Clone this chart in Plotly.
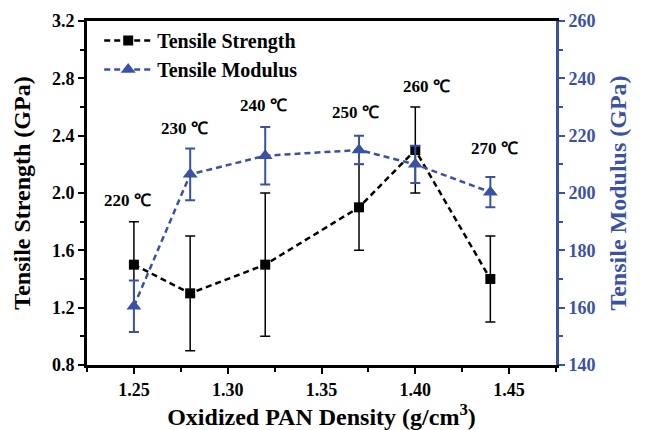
import plotly.graph_objects as go

density = [1.25, 1.28, 1.32, 1.37, 1.40, 1.44]
strength = [1.5, 1.3, 1.5, 1.9, 2.3, 1.4]
strength_err = [0.3, 0.4, 0.5, 0.3, 0.3, 0.3]
modulus = [160.5, 206.5, 213, 215, 210, 200.3]
modulus_err = [9, 9, 10, 5, 6.5, 5.3]
temp_labels = ["220 ℃", "230 ℃", "240 ℃", "250 ℃", "260 ℃", "270 ℃"]
label_x = [1.2468, 1.277, 1.319, 1.368, 1.406, 1.442]
label_y = [1.95, 2.45, 2.61, 2.56, 2.74, 2.31]

BLUE = "#3A52A6"
FONT = "Liberation Serif"

fig = go.Figure()
fig.add_trace(go.Scatter(
    x=density, y=strength, name="Tensile Strength", mode="lines+markers",
    line=dict(color="black", width=2.5, dash="6px,4px"),
    marker=dict(symbol="square", size=10, color="black"),
    error_y=dict(type="data", array=strength_err, color="black", thickness=1.5, width=5),
    yaxis="y"))
fig.add_trace(go.Scatter(
    x=density, y=modulus, name="Tensile Modulus", mode="lines+markers",
    line=dict(color=BLUE, width=2.5, dash="6px,4px"),
    marker=dict(symbol="triangle-up", size=13, color=BLUE),
    error_y=dict(type="data", array=modulus_err, color=BLUE, thickness=2, width=5),
    yaxis="y2"))

for t, x, y in zip(temp_labels, label_x, label_y):
    fig.add_annotation(x=x, y=y, xref="x", yref="y", text=t, showarrow=False,
                       font=dict(family=FONT, size=17, color="black", weight="bold"))

fig.update_layout(
    width=637, height=422,
    margin=dict(l=79, r=89, t=13, b=65),
    plot_bgcolor="white", paper_bgcolor="white",
    font=dict(family=FONT, size=18, color="black", weight="bold"),
    showlegend=True,
    legend=dict(x=0.026, y=1.0, xanchor="left", yanchor="top", itemwidth=48,
                bgcolor="rgba(0,0,0,0)", font=dict(family=FONT, size=20, weight="bold")),
    xaxis=dict(range=[1.225, 1.475], tickvals=[1.25, 1.30, 1.35, 1.40, 1.45],
               ticktext=["1.25", "1.30", "1.35", "1.40", "1.45"], automargin=False,
               showline=True, linecolor="black", linewidth=3, mirror=True,
               ticks="outside", ticklen=6, tickwidth=2, tickcolor="black",
               minor=dict(ticks="outside", dtick=0.025, ticklen=4, tickwidth=2, tickcolor="black"),
               showgrid=False, zeroline=False,
               title=dict(text="Oxidized PAN Density (g/cm<sup>3</sup>)",
                          font=dict(family=FONT, size=24, weight="bold"))),
    yaxis=dict(range=[0.8, 3.2], dtick=0.4, tickformat=".1f", automargin=False,
               showline=True, linecolor="black", linewidth=3,
               ticks="outside", ticklen=6, tickwidth=2, tickcolor="black",
               minor=dict(ticks="outside", dtick=0.2, ticklen=4, tickwidth=2, tickcolor="black"),
               showgrid=False, zeroline=False,
               title=dict(text="Tensile Strength (GPa)",
                          font=dict(family=FONT, size=24, weight="bold"))),
    yaxis2=dict(range=[140, 260], dtick=20, overlaying="y", side="right", automargin=False,
                showline=True, linecolor=BLUE, linewidth=3,
                ticks="outside", ticklen=6, tickwidth=2, tickcolor=BLUE,
                minor=dict(ticks="outside", dtick=10, ticklen=4, tickwidth=2, tickcolor=BLUE),
                tickfont=dict(color=BLUE, family=FONT, size=18, weight="bold"),
                showgrid=False, zeroline=False,
                title=dict(text="Tensile Modulus (GPa)",
                           font=dict(family=FONT, size=24, weight="bold", color=BLUE))),
)

fig.write_html("out.html")
